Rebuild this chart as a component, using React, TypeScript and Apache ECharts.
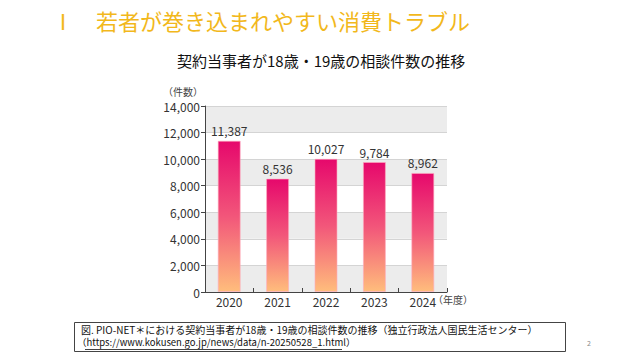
import React, { useEffect, useRef } from "react";
import * as echarts from "echarts";

const years = ["2020", "2021", "2022", "2023", "2024"];
const counts = [11387, 8536, 10027, 9784, 8962];
const yTicks = [0, 2000, 4000, 6000, 8000, 10000, 12000, 14000];

const FONT = '"Noto Sans CJK JP", "Noto Sans", sans-serif';

export default function App() {
  const ref = useRef<HTMLDivElement>(null);
  useEffect(() => {
    if (!ref.current) return;
    const chart = echarts.init(ref.current, null, { renderer: "svg" });
    chart.setOption({
      animation: false,
      backgroundColor: "#ffffff",
      textStyle: { fontFamily: FONT },
      grid: { left: 205, right: 193, top: 106, bottom: 68 },
      xAxis: {
        type: "category",
        data: years,
        axisLine: { lineStyle: { color: "#444", width: 1 } },
        axisTick: { show: true, inside: true, length: 4, alignWithLabel: false, lineStyle: { color: "#444" } },
        axisLabel: { color: "#333", fontSize: 12, margin: 3, fontFamily: FONT },
      },
      yAxis: {
        type: "value",
        min: yTicks[0],
        max: yTicks[yTicks.length - 1],
        interval: 2000,
        axisLine: { show: true, lineStyle: { color: "#444", width: 1 } },
        axisTick: { show: true, length: 4, lineStyle: { color: "#444" } },
        axisLabel: {
          color: "#333",
          fontSize: 12,
          margin: 5,
          fontFamily: FONT,
          formatter: (v: number) => v.toLocaleString("en-US"),
        },
        splitLine: { show: true, lineStyle: { color: "#d4d4d4", width: 1 } },
        splitArea: { show: true, areaStyle: { color: ["#ececec", "#ffffff"] } },
      },
      series: [
        {
          type: "bar",
          data: counts,
          barWidth: 23,
          itemStyle: {
            color: new echarts.graphic.LinearGradient(0, 0, 0, 1, [
              { offset: 0, color: "#e6086c" },
              { offset: 0.5, color: "#f2567a" },
              { offset: 1, color: "#ffbd7c" },
            ]),
            borderColor: "rgba(255,170,190,0.6)",
            borderWidth: 1,
          },
          label: {
            show: true,
            position: "top",
            distance: 4,
            color: "#333",
            fontSize: 12,
            fontFamily: FONT,
            formatter: (p: any) => Number(p.value).toLocaleString("en-US"),
          },
        },
      ],
      graphic: [
        {
          type: "text",
          left: 52,
          top: 9,
          style: {
            text: "Ⅰ　若者が巻き込まれやすい消費トラブル",
            fill: "#f2b81c",
            font: `22px ${FONT}`,
          },
        },
        {
          type: "text",
          left: 177,
          top: 53,
          style: {
            text: "契約当事者が18歳・19歳の相談件数の推移",
            fill: "#111",
            font: `15px ${FONT}`,
          },
        },
        {
          type: "text",
          left: 163,
          top: 86,
          style: { text: "（件数）", fill: "#444", font: `10px ${FONT}` },
        },
        {
          type: "text",
          left: 433,
          top: 294,
          style: { text: "（年度）", fill: "#444", font: `10px ${FONT}` },
        },
        {
          type: "rect",
          shape: { x: 74.5, y: 322.5, width: 491, height: 29 },
          style: { fill: "#fff", stroke: "#444", lineWidth: 1 },
        },
        {
          type: "text",
          left: 81,
          top: 324,
          style: {
            text: "図. PIO-NET＊における契約当事者が18歳・19歳の相談件数の推移（独立行政法人国民生活センター）",
            fill: "#111",
            font: `10px ${FONT}`,
          },
        },
        {
          type: "text",
          left: 77,
          top: 337.5,
          style: {
            text: "（https://www.kokusen.go.jp/news/data/n-20250528_1.html）",
            fill: "#111",
            font: `9.5px ${FONT}`,
          },
        },
        {
          type: "line",
          shape: { x1: 85, y1: 349.5, x2: 342, y2: 349.5 },
          style: { stroke: "#111", lineWidth: 0.8 },
        },
        {
          type: "text",
          left: 587,
          top: 339,
          style: { text: "2", fill: "#888", font: `7px ${FONT}` },
        },
      ],
    });
    return () => chart.dispose();
  }, []);
  return <div ref={ref} style={{ width: 640, height: 360, position: "fixed", left: 0, top: 0 }} />;
}
